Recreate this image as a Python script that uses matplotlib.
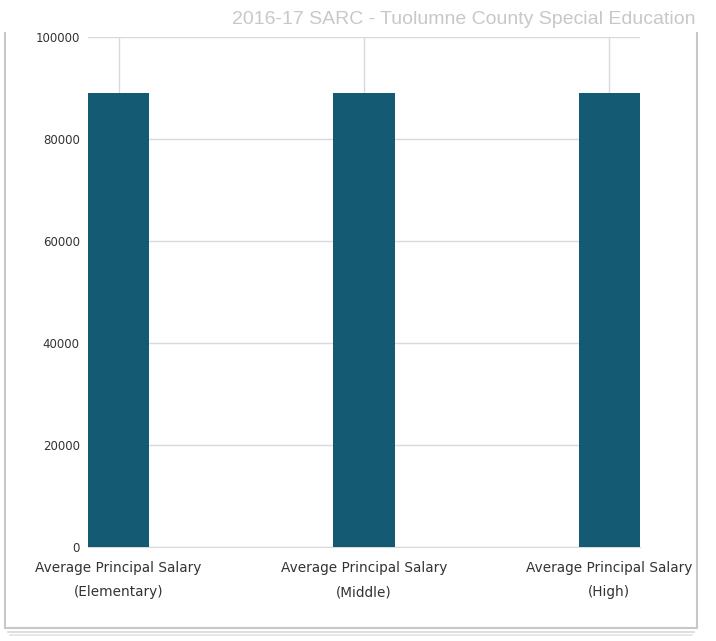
import matplotlib.pyplot as plt
from matplotlib.lines import Line2D

categories = ["Average Principal Salary\n(Elementary)",
              "Average Principal Salary\n(Middle)",
              "Average Principal Salary\n(High)"]
salaries = [89000, 89000, 89000]
yticks = [0, 20000, 40000, 60000, 80000, 100000]

title = "2016-17 SARC - Tuolumne County Special Education"
bar_color = "#135a72"
grid_color = "#d9d9d9"

fig = plt.figure(figsize=(7.16, 6.41), dpi=100)
ax = fig.add_axes([88 / 716, 1 - 547 / 641, (640 - 88) / 716, (547 - 37) / 641])

x = list(range(len(categories)))
ax.bar(x, salaries, width=0.25, color=bar_color, zorder=3)
ax.set_xlim(-0.125, 2.125)
ax.set_ylim(0, 100000)
ax.set_yticks(yticks)
ax.set_yticklabels([str(v) for v in yticks], fontsize=8.5, color="#333333")
ax.set_xticks(x)
ax.set_xticklabels(categories, fontsize=9.8, color="#333333", linespacing=1.95)
ax.tick_params(axis="both", length=0)
ax.tick_params(axis="y", pad=6)
ax.tick_params(axis="x", pad=10)
ax.grid(True, color=grid_color, linewidth=1, zorder=0)
for s in ["top", "right", "left"]:
    ax.spines[s].set_visible(False)
ax.spines["bottom"].set_color(grid_color)

fig.text(695 / 716, 1 - 20 / 641, title, ha="right", va="center",
         fontsize=14, color="#c8c8c8", family="Liberation Sans")

# frame around the chart
border = "#c8c8c8"
fig.add_artist(Line2D([5 / 716, 5 / 716], [1 - 33 / 641, 1 - 628 / 641], color=border, lw=1.5))
fig.add_artist(Line2D([697 / 716, 697 / 716], [1 - 33 / 641, 1 - 628 / 641], color=border, lw=1.5))
fig.add_artist(Line2D([5 / 716, 697 / 716], [1 - 628 / 641, 1 - 628 / 641], color=border, lw=1.5))
fig.add_artist(Line2D([8 / 716, 694 / 716], [1 - 632 / 641, 1 - 632 / 641], color="#d8d8d8", lw=1.2))
fig.add_artist(Line2D([10 / 716, 692 / 716], [1 - 635 / 641, 1 - 635 / 641], color="#e4e4e4", lw=1.2))

fig.savefig("out.png", dpi=100)
